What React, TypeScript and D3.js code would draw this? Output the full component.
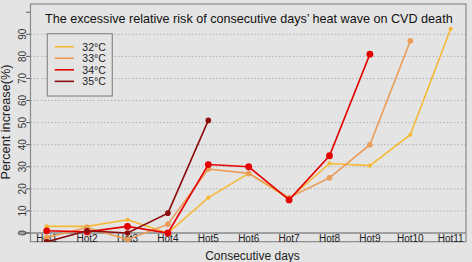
import React from "react";
import * as d3 from "d3";

const categories = ["Hot1", "Hot2", "Hot3", "Hot4", "Hot5", "Hot6", "Hot7", "Hot8", "Hot9", "Hot10", "Hot11"];
const s32 = [3, 3, 6, 0, 16, 27, 15.5, 31.5, 30.5, 44.5, 92.5];
const s33 = [-2, 2.5, -3, 4, 29, 27, 16, 25, 40, 87];
const s34 = [1, 0.5, 3, 0, 31, 30, 15, 35, 81];
const s35 = [-4, 1, 0, 9, 51];
const seriesLabels = ["32", "33", "34", "35"];
const yTicks = [0, 10, 20, 30, 40, 50, 60, 70, 80, 90, 100];
const yLabels = [0, 10, 20, 30, 40, 50, 60, 70, 80, 90];
const gridValues = [10, 20, 30, 40, 50, 60, 70, 80, 90];

const colors = ["#F5B935", "#EB9C58", "#E50000", "#8C0C0C"];
const radii = [2.1, 2.8, 3.4, 2.8];

export default function App() {
  const W = 472, H = 262;
  const panel = { l: 30.5, r: 466, t: 4, b: 241.7 };
  const x = d3.scalePoint<string>().domain(categories).range([46.7, 450.7]);
  const y = d3.scaleLinear().domain([0, 90]).range([233, 34.3]);
  const all = [s32, s33, s34, s35];
  const line = d3.line<number>().x((_, i) => x(categories[i])!).y((d) => y(d));
  return (
    <svg width={W} height={H} style={{ position: "fixed", left: 0, top: 0, fontFamily: "Liberation Sans, Arial, sans-serif" }}>
      <defs>
        <clipPath id="pc">
          <rect x={panel.l} y={panel.t} width={panel.r - panel.l} height={panel.b - panel.t} />
        </clipPath>
      </defs>
      <rect x={0} y={0} width={W} height={H} fill="#E4E4E4" />
      {gridValues.map((v) => (
        <line key={v} x1={panel.l} x2={panel.r} y1={y(v)} y2={y(v)} stroke="#B0B0B0" strokeWidth={1} strokeDasharray="1.5,2" />
      ))}
      <line x1={19} x2={panel.r} y1={y(0)} y2={y(0)} stroke="#5A5A5A" strokeWidth={1} />
      {yTicks.map((v) => (
        <line key={v} x1={26} x2={panel.l} y1={y(v)} y2={y(v)} stroke="#5A5A5A" strokeWidth={1} />
      ))}
      {yLabels.map((v) => (
        <text key={v} transform={`translate(26,${y(v)}) rotate(-90)`} textAnchor="middle" fontSize={10} fill="#333">
          {v}
        </text>
      ))}
      <rect x={panel.l} y={panel.t} width={panel.r - panel.l} height={panel.b - panel.t} fill="none" stroke="#8A8A8A" strokeWidth={1.2} />
      {categories.map((c) => (
        <text key={c} x={x(c)} y={241.5} textAnchor="middle" fontSize={10} fill="#222">
          {c}
        </text>
      ))}
      <g clipPath="url(#pc)">
        {all.map((s, k) => (
          <g key={k}>
            <path d={line(s)!} fill="none" stroke={colors[k]} strokeWidth={1.6} />
            {s.map((v, i) => (
              <circle key={i} cx={x(categories[i])} cy={y(v)} r={radii[k]} fill={colors[k]} />
            ))}
          </g>
        ))}
      </g>
      <text x={45} y={22.5} fontSize={12.6} fill="#111">
        The excessive relative risk of consecutive days’ heat wave on CVD death
      </text>
      <rect x={47.3} y={33.7} width={65} height={62.3} fill="#E4E4E4" stroke="#8A8A8A" strokeWidth={1.2} />
      {seriesLabels.map((t, k) => (
        <g key={t}>
          <line x1={54.7} x2={74} y1={46.7 + k * 11.55} y2={46.7 + k * 11.55} stroke={colors[k]} strokeWidth={1.6} />
          <text x={82.3} y={46.7 + k * 11.55 + 3.8} fontSize={10.5} fill="#222">
            {t}°C
          </text>
        </g>
      ))}
      <text transform={`translate(10,122) rotate(-90)`} textAnchor="middle" fontSize={12.7} fill="#222">
        Percent increase(%)
      </text>
      <text x={252.5} y={259.5} textAnchor="middle" fontSize={12} fill="#222">
        Consecutive days
      </text>
    </svg>
  );
}
